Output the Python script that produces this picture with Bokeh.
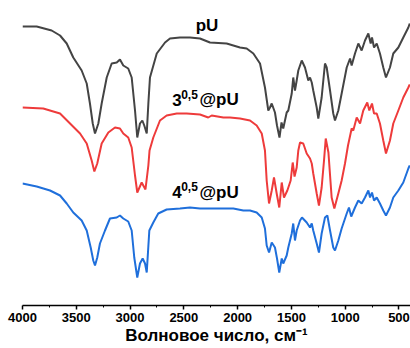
from bokeh.plotting import figure
from bokeh.models import Range1d, FixedTicker
from bokeh.core.properties import value
from bokeh.embed import file_html
from bokeh.resources import INLINE

# ---- data (wavenumber, cm-1 ; intensity, arbitrary units incl. vertical offset) ----
wn_pu = [4000, 3868, 3729, 3651, 3589, 3528, 3450, 3403, 3373, 3347, 3326, 3295, 3264, 3217,
         3171, 3124, 3094, 3063, 3017, 2985, 2954, 2933, 2908, 2886, 2868, 2845, 2830, 2815,
         2752, 2675, 2629, 2536, 2443, 2350, 2257, 2102, 1978, 1916, 1854, 1792, 1746, 1715,
         1699, 1683, 1653, 1634, 1611, 1592, 1576, 1544, 1529, 1497, 1483, 1467, 1451, 1436,
         1404, 1374, 1343, 1327, 1311, 1297, 1265, 1250, 1219, 1188, 1172, 1141, 1111, 1095,
         1064, 1033, 986, 955, 940, 909, 878, 847, 816, 785, 763, 751, 732, 707, 677, 646,
         621, 584, 553, 506, 460, 413, 400]
t_pu = [279, 279, 275, 270, 262, 248, 235, 222, 202, 182, 172, 182, 202, 228,
        242, 243, 246, 240, 237, 228, 195, 168, 182, 185, 180, 172, 202, 228,
        252, 263, 267, 268, 268, 267, 263, 262, 258, 257, 252, 242, 218, 195,
        198, 202, 193, 180, 168, 183, 177, 193, 195, 212, 228, 215, 225, 235,
        245, 238, 225, 228, 223, 215, 198, 187, 208, 242, 238, 215, 192, 185,
        195, 212, 238, 247, 240, 252, 262, 255, 265, 272, 262, 268, 258, 262, 252, 238,
        228, 238, 252, 258, 268, 278, 282]

wn_3 = [4000, 3807, 3651, 3558, 3465, 3403, 3357, 3332, 3305, 3264, 3202, 3140, 3094, 3063,
        3017, 2985, 2954, 2933, 2892, 2857, 2830, 2819, 2784, 2722, 2660, 2566, 2474, 2350,
        2273, 2241, 2133, 2071, 1978, 1885, 1823, 1776, 1746, 1730, 1708, 1683, 1662, 1637,
        1613, 1590, 1569, 1538, 1507, 1488, 1471, 1451, 1436, 1420, 1390, 1358, 1327, 1311,
        1297, 1265, 1244, 1219, 1197, 1181, 1156, 1126, 1101, 1064, 1033, 1002, 974, 940,
        925, 893, 862, 832, 795, 776, 751, 732, 707, 677, 646, 621, 584, 553, 506, 460,
        413, 400]
t_3 = [198, 197, 192, 182, 172, 162, 145, 134, 142, 162, 173, 178, 177, 172,
       168, 158, 130, 113, 123, 116, 140, 155, 168, 185, 190, 192, 192, 191,
       188, 190, 188, 188, 187, 185, 180, 172, 155, 125, 102, 115, 128, 112,
       98, 123, 108, 115, 125, 143, 129, 138, 155, 163, 162, 152, 147, 142,
       132, 112, 100, 118, 145, 167, 153, 108, 97, 112, 125, 142, 160, 177,
       175, 188, 182, 195, 203, 195, 202, 192, 192, 182, 165, 152, 165, 182, 195, 208,
       218, 221]

wn_4 = [4000, 3868, 3744, 3651, 3589, 3528, 3450, 3403, 3366, 3342, 3326, 3305, 3280, 3233,
        3187, 3124, 3094, 3063, 3017, 2985, 2961, 2933, 2908, 2883, 2861, 2845, 2821, 2784,
        2738, 2660, 2536, 2443, 2350, 2195, 2040, 1947, 1885, 1823, 1776, 1746, 1730, 1708,
        1683, 1653, 1634, 1613, 1590, 1576, 1544, 1529, 1497, 1483, 1467, 1451, 1420, 1402,
        1358, 1327, 1311, 1297, 1265, 1244, 1219, 1188, 1166, 1141, 1111, 1095, 1064, 1033,
        986, 965, 944, 909, 878, 847, 816, 785, 769, 751, 732, 707, 677, 646, 621, 584,
        553, 506, 460, 413, 400]
t_4 = [122, 119, 115, 110, 102, 93, 85, 75, 58, 45, 40, 48, 62, 75,
       87, 88, 90, 87, 84, 75, 48, 28, 42, 47, 42, 33, 75, 83,
       92, 96, 97, 98, 97, 97, 97, 95, 95, 93, 88, 77, 60, 53,
       63, 58, 47, 33, 47, 42, 50, 58, 72, 82, 65, 75, 85, 88,
       83, 78, 82, 75, 62, 53, 72, 88, 90, 75, 58, 55, 65, 77,
       92, 98, 89, 98, 105, 102, 108, 115, 108, 113, 105, 108, 102, 95, 90, 98,
       108, 115, 123, 137, 140]

tick_values = [4000, 3500, 3000, 2500, 2000, 1500, 1000, 500]
tick_labels = ["4000", "3500", "3000", "2500", "2000", "1500", "1000", "500"]
minor_values = [3750, 3250, 2750, 2250, 1750, 1250, 750]

series = [
    (wn_pu, t_pu, "#444444"),
    (wn_3, t_3, "#EE3B3B"),
    (wn_4, t_4, "#1F6FDB"),
]

FONT = "Liberation Sans"

p = figure(width=410, height=348, output_backend="svg", toolbar_location=None,
           x_range=Range1d(4000, 393), y_range=Range1d(0, 305),
           min_border_left=22, min_border_right=0, min_border_top=0,
           min_border_bottom=43)
p.yaxis.visible = False
p.grid.visible = False
p.outline_line_color = None

for xs, ys, col in series:
    p.line(xs, ys, line_color=col, line_width=2)

ax = p.xaxis[0]
ax.ticker = FixedTicker(ticks=tick_values, minor_ticks=minor_values)
ax.major_label_overrides = {v: s for v, s in zip(tick_values, tick_labels)}
ax.axis_line_width = 1.5
ax.axis_line_color = "black"
ax.major_tick_in = 0
ax.major_tick_out = 4
ax.major_tick_line_width = 1.5
ax.minor_tick_in = 0
ax.minor_tick_out = 2
ax.minor_tick_line_width = 1
ax.major_label_text_font = FONT
ax.major_label_text_font_style = "bold"
ax.major_label_text_font_size = "13px"
ax.major_label_text_color = "black"
ax.major_label_standoff = 3
ax.axis_label = "Волновое число, см⁻¹"
ax.axis_label_text_font = FONT
ax.axis_label_text_font_style = "bold"
ax.axis_label_text_font_size = "17px"
ax.axis_label_text_color = "black"
ax.axis_label_standoff = 1

# sample labels (main text, superscript, suffix)
lab_kw = dict(text_font=value(FONT), text_font_style="bold", text_color="black",
              text_baseline="alphabetic", text_align="left")
p.text(x=[2390], y=[280], text=["pU"], text_font_size="17px", **lab_kw)
for y_base, main in [(206, "3"), (113.5, "4")]:
    p.text(x=[2608], y=[y_base], text=[main], text_font_size="17px", **lab_kw)
    p.text(x=[2525], y=[y_base + 5.5], text=["0,5"], text_font_size="12px", **lab_kw)
    p.text(x=[2355], y=[y_base], text=["@pU"], text_font_size="17px", **lab_kw)

open("out.html", "w").write(file_html(p, INLINE))
